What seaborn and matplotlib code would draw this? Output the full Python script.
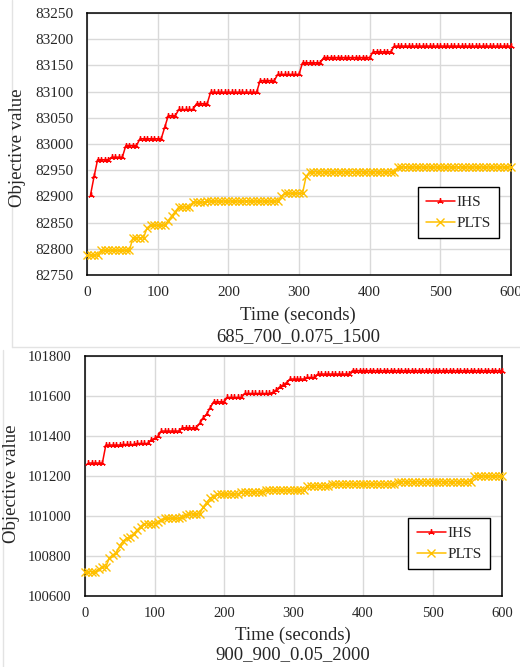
import numpy as np
import pandas as pd
import seaborn as sns
import matplotlib
matplotlib.use("Agg")
import matplotlib.pyplot as plt
from matplotlib.lines import Line2D

# ---------------- data ----------------
# Sampling times (seconds)
TIME_IHS = np.arange(5, 601, 5)
TIME_PLTS = np.arange(0, 601, 5)

# Instance 685_700_0.075_1500
IHS_A = [
    82903, 82938, 82970, 82970, 82970, 82970, 82975, 82975, 82975, 82975,
    82997, 82997, 82997, 82997, 83010, 83010, 83010, 83010, 83010, 83010,
    83010, 83032, 83054, 83054, 83054, 83066, 83066, 83066, 83066, 83066,
    83077, 83077, 83077, 83077, 83099, 83099, 83099, 83099, 83099, 83099,
    83099, 83099, 83099, 83099, 83099, 83099, 83099, 83099, 83121, 83121,
    83121, 83121, 83121, 83133, 83133, 83133, 83133, 83133, 83133, 83133,
    83155, 83155, 83155, 83155, 83155, 83155, 83165, 83165, 83165, 83165,
    83165, 83165, 83165, 83165, 83165, 83165, 83165, 83165, 83165, 83165,
    83176, 83176, 83176, 83176, 83176, 83176, 83187, 83187, 83187, 83187,
    83187, 83187, 83187, 83187, 83187, 83187, 83187, 83187, 83187, 83187,
    83187, 83187, 83187, 83187, 83187, 83187, 83187, 83187, 83187, 83187,
    83187, 83187, 83187, 83187, 83187, 83187, 83187, 83187, 83187, 83187,
]
PLTS_A = [
    82788, 82788, 82788, 82788, 82797, 82797, 82797, 82797, 82797, 82797,
    82797, 82797, 82797, 82821, 82821, 82821, 82821, 82840, 82845, 82845,
    82845, 82845, 82845, 82854, 82863, 82871, 82880, 82880, 82880, 82880,
    82889, 82889, 82889, 82889, 82891, 82891, 82891, 82891, 82891, 82891,
    82891, 82891, 82891, 82891, 82891, 82891, 82891, 82891, 82891, 82891,
    82891, 82891, 82891, 82891, 82891, 82900, 82906, 82906, 82906, 82906,
    82906, 82906, 82938, 82947, 82947, 82947, 82947, 82947, 82947, 82947,
    82947, 82947, 82947, 82947, 82947, 82947, 82947, 82947, 82947, 82947,
    82947, 82947, 82947, 82947, 82947, 82947, 82947, 82947, 82956, 82956,
    82956, 82956, 82956, 82956, 82956, 82956, 82956, 82956, 82956, 82956,
    82956, 82956, 82956, 82956, 82956, 82956, 82956, 82956, 82956, 82956,
    82956, 82956, 82956, 82956, 82956, 82956, 82956, 82956, 82956, 82956,
    82956,
]

# Instance 900_900_0.05_2000
IHS_B = [
    101265, 101265, 101265, 101265, 101265, 101355, 101355, 101355, 101355, 101355,
    101358, 101358, 101358, 101358, 101363, 101363, 101363, 101363, 101380, 101388,
    101398, 101425, 101425, 101425, 101425, 101425, 101425, 101441, 101441, 101441,
    101441, 101441, 101463, 101490, 101510, 101540, 101571, 101571, 101571, 101571,
    101593, 101593, 101593, 101593, 101593, 101613, 101613, 101613, 101613, 101613,
    101613, 101613, 101613, 101618, 101630, 101645, 101655, 101667, 101685, 101685,
    101685, 101685, 101685, 101693, 101693, 101693, 101710, 101710, 101710, 101710,
    101710, 101710, 101710, 101710, 101710, 101710, 101727, 101727, 101727, 101727,
    101727, 101727, 101727, 101727, 101727, 101727, 101727, 101727, 101727, 101727,
    101727, 101727, 101727, 101727, 101727, 101727, 101727, 101727, 101727, 101727,
    101727, 101727, 101727, 101727, 101727, 101727, 101727, 101727, 101727, 101727,
    101727, 101727, 101727, 101727, 101727, 101727, 101727, 101727, 101727, 101727,
]
PLTS_B = [
    100722, 100722, 100722, 100722, 100735, 100745, 100745, 100790, 100805, 100817,
    100850, 100875, 100888, 100895, 100910, 100930, 100947, 100962, 100962, 100962,
    100962, 100972, 100980, 100988, 100988, 100988, 100988, 100988, 100995, 101005,
    101010, 101010, 101010, 101010, 101045, 101067, 101088, 101095, 101110, 101110,
    101110, 101110, 101110, 101110, 101110, 101122, 101122, 101122, 101122, 101122,
    101122, 101122, 101130, 101130, 101130, 101130, 101130, 101130, 101130, 101130,
    101130, 101130, 101130, 101130, 101152, 101152, 101152, 101152, 101152, 101152,
    101152, 101160, 101160, 101160, 101160, 101160, 101160, 101160, 101160, 101160,
    101160, 101160, 101160, 101160, 101160, 101160, 101160, 101160, 101160, 101160,
    101172, 101172, 101172, 101172, 101172, 101172, 101172, 101172, 101172, 101172,
    101172, 101172, 101172, 101172, 101172, 101172, 101172, 101172, 101172, 101172,
    101172, 101172, 101200, 101200, 101200, 101200, 101200, 101200, 101200, 101200,
    101200,
]

TITLES = ["685_700_0.075_1500", "900_900_0.05_2000"]
YTICKS_A = list(range(82750, 83251, 50))
YTICKS_B = list(range(100600, 101801, 200))
XTICKS = [0, 100, 200, 300, 400, 500, 600]

RED = "#FF0000"
GOLD = "#FFC000"
GRID = "#D9D9D9"

# ---------------- style ----------------
sns.set_style("white")
plt.rcParams["font.family"] = ["Liberation Serif", "DejaVu Serif"]

fig = plt.figure(figsize=(5.2, 6.67), dpi=100)
W, H = 520, 667


def px_axes(x0, y0, x1, y1):
    return fig.add_axes([x0 / W, 1 - y1 / H, (x1 - x0) / W, (y1 - y0) / H])


def fig_text(x, y, s, **kw):
    fig.text(x / W, 1 - y / H, s, ha="center", va="center", fontsize=13.5, **kw)


ax_a = px_axes(87, 13, 511, 275)
ax_b = px_axes(85, 356, 502, 596)

panels = [
    (ax_a, IHS_A, PLTS_A, YTICKS_A, 11, (0.972, 0.335)),
    (ax_b, IHS_B, PLTS_B, YTICKS_B, 10.5, (0.971, 0.324)),
]

for ax, ihs, plts, yticks, tfs, leg_anchor in panels:
    df_ihs = pd.DataFrame({"t": TIME_IHS, "v": ihs})
    df_plts = pd.DataFrame({"t": TIME_PLTS, "v": plts})
    sns.lineplot(data=df_ihs, x="t", y="v", ax=ax, color=RED, lw=1.1,
                 marker=(3, 2, 0), markersize=4.5, markeredgewidth=1.0,
                 markeredgecolor=RED, label="IHS", clip_on=False, zorder=4)
    sns.lineplot(data=df_plts, x="t", y="v", ax=ax, color=GOLD, lw=1.1,
                 marker="x", markersize=5.5, markeredgewidth=1.0,
                 markeredgecolor=GOLD, label="PLTS", clip_on=False, zorder=3)

    ax.set_xlim(0, 600)
    ax.set_ylim(yticks[0], yticks[-1])
    ax.set_xticks(XTICKS)
    ax.set_yticks(yticks)
    ax.set_xticklabels([str(v) for v in XTICKS], fontsize=tfs)
    ax.set_yticklabels([str(v) for v in yticks], fontsize=tfs)
    ax.tick_params(axis="y", length=0, pad=10)
    ax.tick_params(axis="x", length=0, pad=8)
    ax.grid(True, color=GRID, lw=1.0)
    ax.set_axisbelow(True)
    for sp in ax.spines.values():
        sp.set_color("black")
        sp.set_linewidth(1.1)

    ax.set_xlabel("")
    ax.set_ylabel("")

    leg = ax.legend(loc="upper right", bbox_to_anchor=leg_anchor,
                    borderaxespad=0, fontsize=11, frameon=True, fancybox=False,
                    edgecolor="black", framealpha=1, handlelength=1.9,
                    handletextpad=0.1, labelspacing=0.45, borderpad=0.55)
    leg.get_frame().set_linewidth(1.0)

# axis titles and instance names
fig_text(18, 148, "Objective value", rotation=90)
fig_text(298, 315, "Time (seconds)")
fig_text(298, 337, TITLES[0])
fig_text(12, 484, "Objective value", rotation=90)
fig_text(293, 635, "Time (seconds)")
fig_text(293, 655, TITLES[1])

# faint panel borders
border = dict(color="#E3E3E3", lw=1.0, transform=fig.transFigure)
fig.add_artist(Line2D([12 / W, 12 / W], [1.0, 1 - 347 / H], **border))
fig.add_artist(Line2D([12 / W, 1.0], [1 - 347 / H, 1 - 347 / H], **border))
fig.add_artist(Line2D([3 / W, 3 / W], [1 - 350 / H, 0.0], **border))

fig.savefig("out.png", dpi=100)
